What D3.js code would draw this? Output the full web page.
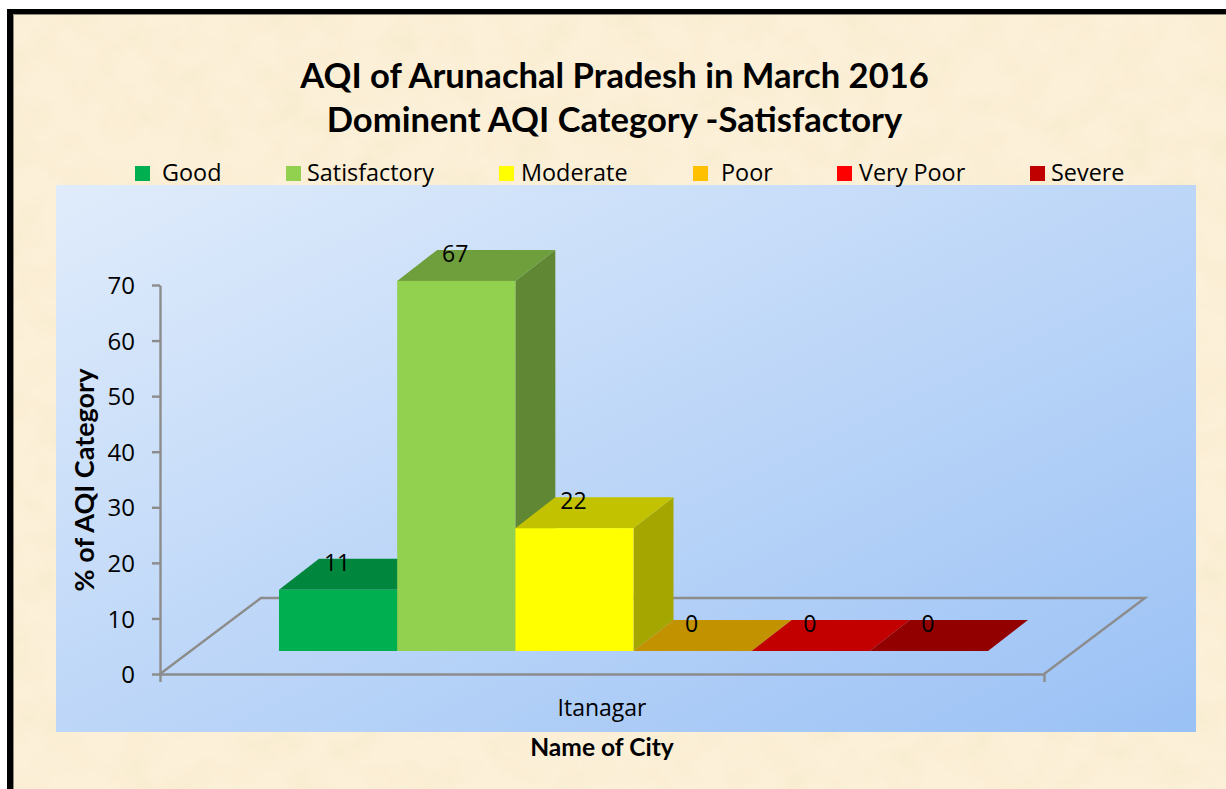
<!DOCTYPE html>
<html>
<head>
<meta charset="utf-8">
<script src="https://cdn.jsdelivr.net/npm/d3@7"></script>
<style>
  html, body { margin: 0; padding: 0; background: #fff; overflow: hidden; }
  svg { display: block; }
  .tick text { font-family: "Open Sans", sans-serif; fill: #000; }
</style>
</head>
<body>
<svg id="chart" width="1226" height="789"></svg>
<script>
// values
const titleLines = ["AQI of Arunachal Pradesh in March 2016", "Dominent AQI Category -Satisfactory"];
const cities = ["Itanagar"];
const categories = ["Good", "Satisfactory", "Moderate", "Poor", "Very Poor", "Severe"];
const values = [11, 67, 22, 0, 0, 0];
const barHeights = [11, 66.6, 22.1, 0, 0, 0]; // drawn height is slightly off the rounded label
const colors = ["#00b050", "#92d050", "#ffff00", "#ffc000", "#ff0000", "#c00000"];
const yTicks = [0, 10, 20, 30, 40, 50, 60, 70];
const legendSwatchX = [135, 286, 499, 693, 837, 1030];
const legendTextX = [162, 307, 521, 721, 859, 1051];

const svg = d3.select("#chart");
const defs = svg.append("defs");

const grad = defs.append("linearGradient").attr("id", "panel")
    .attr("x1", 0).attr("y1", 0).attr("x2", 1).attr("y2", 1);
grad.append("stop").attr("offset", 0).attr("stop-color", "#e0ecfb");
grad.append("stop").attr("offset", 1).attr("stop-color", "#9ac1f5");

// parchment mottling
const paper = defs.append("filter").attr("id", "paper")
    .attr("x", 0).attr("y", 0).attr("width", "100%").attr("height", "100%");
paper.append("feTurbulence").attr("type", "fractalNoise")
    .attr("baseFrequency", "0.026 0.03").attr("numOctaves", 4).attr("seed", 7);
paper.append("feColorMatrix").attr("type", "matrix")
    .attr("values", "0 0 0 0 0.93  0 0 0 0 0.84  0 0 0 0 0.62  1.9 0 0 0 -0.72");
paper.append("feComposite").attr("in2", "SourceGraphic").attr("operator", "over");

svg.append("rect").attr("x", 7).attr("y", 9).attr("width", 1219).attr("height", 780).attr("fill", "#000");
svg.append("rect").attr("x", 13).attr("y", 14).attr("width", 1213).attr("height", 775)
    .attr("fill", "#fdf0d9").attr("filter", "url(#paper)");
svg.append("path").attr("d", "M13.5,789V14.5H1226").attr("fill", "none").attr("stroke", "#8f8a80");

svg.selectAll(".title").data(titleLines).join("text")
    .attr("class", "title")
    .attr("x", 614.5)
    .attr("y", (d, i) => 88 + i * 44)
    .attr("text-anchor", "middle")
    .attr("font-family", "Lato, sans-serif")
    .attr("font-weight", 700)
    .attr("font-size", 34.6)
    .text(d => d);

svg.append("rect").attr("x", 56).attr("y", 185).attr("width", 1140).attr("height", 547).attr("fill", "url(#panel)");

// legend
svg.selectAll(".swatch").data(categories).join("rect")
    .attr("class", "swatch")
    .attr("x", (d, i) => legendSwatchX[i])
    .attr("y", 166).attr("width", 15).attr("height", 15)
    .attr("fill", (d, i) => colors[i]);
svg.selectAll(".legend").data(categories).join("text")
    .attr("class", "legend")
    .attr("x", (d, i) => legendTextX[i])
    .attr("y", 181)
    .attr("font-family", "'Open Sans', sans-serif")
    .attr("font-size", 23.4)
    .text(d => d);

// scales
const y = d3.scaleLinear().domain([0, 70]).range([674, 285]);
const x = d3.scaleBand().domain(cities).range([160, 1044]);
const depth = { x: 101, y: -76 };              // floor depth
const barDepth = { x: 40, y: -31 };            // depth of one bar
const floorShift = { x: 31, y: -23 };          // bars stand this far back on the floor
const inner = d3.scaleBand().domain(categories)
    .range([x(cities[0]) + 88, x(cities[0]) + x.bandwidth() - 87]);

// floor
const axisColor = "#8c8c8c";
svg.append("path")
    .attr("d", d3.line()([
      [x.range()[0], y(0)],
      [x.range()[0] + depth.x, y(0) + depth.y],
      [x.range()[1] + depth.x, y(0) + depth.y],
      [x.range()[1], y(0)]
    ]))
    .attr("fill", "none").attr("stroke", axisColor).attr("stroke-width", 2.4);

// axes
const yAxis = svg.append("g").attr("transform", "translate(160,0)")
    .call(d3.axisLeft(y).tickValues(yTicks).tickSize(8).tickSizeOuter(0).tickPadding(18));
const xAxis = svg.append("g").attr("transform", `translate(0,${y(0)})`)
    .call(d3.axisBottom(x).tickSize(0).tickSizeOuter(8).tickPadding(26));
yAxis.selectAll("text").attr("font-size", 24).attr("dy", "0.36em").attr("dx", 1);
xAxis.selectAll("text").attr("font-size", 23);
[yAxis, xAxis].forEach(a => {
  a.selectAll("path,line").attr("stroke", axisColor).attr("stroke-width", 2.4);
});

// bars, left to right so the nearer one covers the side of the one before
const bars = svg.selectAll(".bar").data(categories).join("g").attr("class", "bar");
const barLeft = c => inner(c) + floorShift.x;
const barRight = c => barLeft(c) + inner.bandwidth();
const base = y(0) + floorShift.y;
const barTop = i => base - (y(0) - y(barHeights[i]));

function shade(col, k) {
  const c = d3.rgb(col);
  return d3.rgb(c.r * k, c.g * k, c.b * k).formatHex();
}

bars.append("path") // side
    .attr("d", (c, i) => d3.line()([
      [barRight(c), base], [barRight(c), barTop(i)],
      [barRight(c) + barDepth.x, barTop(i) + barDepth.y], [barRight(c) + barDepth.x, base + barDepth.y]
    ]) + "Z")
    .attr("fill", (c, i) => shade(colors[i], 0.65));
bars.append("path") // top
    .attr("d", (c, i) => d3.line()([
      [barLeft(c), barTop(i)], [barRight(c), barTop(i)],
      [barRight(c) + barDepth.x, barTop(i) + barDepth.y], [barLeft(c) + barDepth.x, barTop(i) + barDepth.y]
    ]) + "Z")
    .attr("fill", (c, i) => shade(colors[i], 0.76));
bars.append("rect") // front
    .attr("x", c => barLeft(c))
    .attr("y", (c, i) => barTop(i))
    .attr("width", inner.bandwidth())
    .attr("height", (c, i) => base - barTop(i))
    .attr("fill", (c, i) => colors[i]);

// value labels
svg.selectAll(".val").data(categories).join("text")
    .attr("class", "val")
    .attr("x", c => barLeft(c) + inner.bandwidth() / 2 - 1)
    .attr("y", (c, i) => barTop(i) + barDepth.y + 12)
    .attr("text-anchor", "middle")
    .attr("font-family", "'Open Sans', sans-serif")
    .attr("font-size", 23)
    .text((c, i) => values[i]);

// axis titles
svg.append("text")
    .attr("transform", "translate(94,480) rotate(-90)")
    .attr("text-anchor", "middle")
    .attr("font-family", "Lato, sans-serif")
    .attr("font-weight", 700)
    .attr("font-size", 27)
    .text("% of AQI Category");
svg.append("text")
    .attr("x", 602).attr("y", 756)
    .attr("text-anchor", "middle")
    .attr("font-family", "Lato, sans-serif")
    .attr("font-weight", 700)
    .attr("font-size", 24.6)
    .text("Name of City");
</script>
</body>
</html>
